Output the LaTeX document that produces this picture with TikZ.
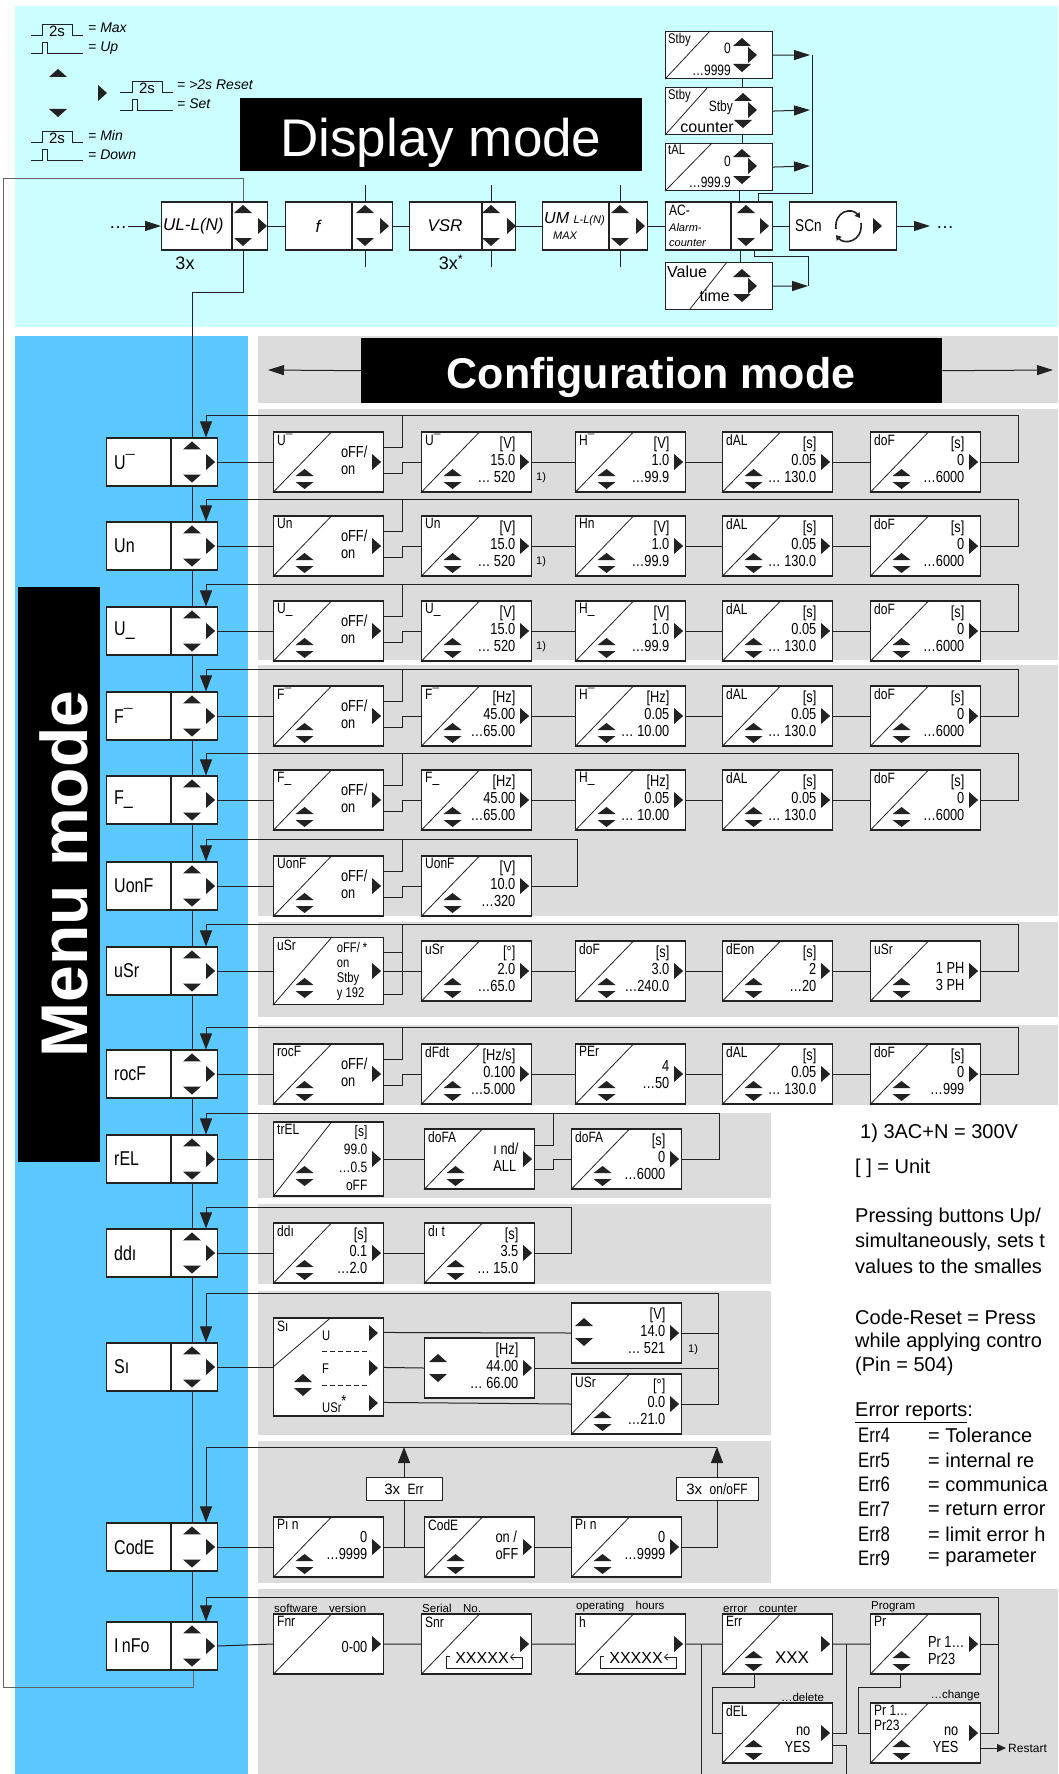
\documentclass[tikz,border=0pt]{standalone}
\usepackage{fontspec}
\setmainfont{Liberation Sans}
\newfontfamily\segf{Liberation Sans}[FakeStretch=0.8]
\usetikzlibrary{arrows.meta,calc}
\definecolor{cyanbg}{HTML}{CCFFFF}
\definecolor{bluebg}{HTML}{5BC8FF}
\definecolor{graybg}{HTML}{DCDCDC}
\definecolor{ln}{HTML}{222222}
\pgfdeclarelayer{bg}
\pgfdeclarelayer{wires}
\pgfsetlayers{bg,wires,main}
\newcommand\fsz[2]{\fontsize{#1}{#2}\selectfont}
\newcommand\tright[1]{\fill[ln,shift={(#1)}] (-4,-8) -- (5,0) -- (-4,8) -- cycle;}
\newcommand\tup[1]{\fill[ln,shift={(#1)}] (-9,4) -- (0,-4) -- (9,4) -- cycle;}
\newcommand\tdown[1]{\fill[ln,shift={(#1)}] (-9,-4) -- (0,4) -- (9,-4) -- cycle;}
\newcommand\tud[1]{\fill[ln,shift={(#1)}] (-9,-3) -- (0,-10) -- (9,-3) -- cycle (-9,3) -- (0,10) -- (9,3) -- cycle;}
\tikzset{
 cbox/.style={draw=ln, fill=white, line width=1.1pt, minimum width=110pt, inner sep=0pt, anchor=west},
 lbl/.style={anchor=north west, inner sep=0pt, align=left, font=\segf\fsz{15}{15}},
 val/.style={anchor=east, inner sep=0pt, align=right, font=\segf\fsz{16}{17}},
 diag/.style={draw=ln, line width=0.8pt},
 wire/.style={draw=ln, line width=1pt},
 fb/.style={wire, -{Triangle[length=16pt,width=12pt]}},
 ar/.style={wire, -{Triangle[length=16pt,width=10pt]}},
 mbox/.style={draw=ln, fill=white, line width=1.1pt, minimum width=111pt, minimum height=48pt, inner sep=0pt, anchor=west},
 mlbl/.style={anchor=west, inner sep=0pt, font=\segf\fsz{20}{20}},
 dbox/.style={draw=ln, fill=white, line width=1.1pt, minimum height=48pt, inner sep=0pt, anchor=west},
 sbox/.style={draw=ln, fill=white, line width=1.1pt, minimum width=107pt, minimum height=47pt, inner sep=0pt, anchor=north west},
 note/.style={anchor=west, inner sep=0pt, font=\fsz{20}{20}},
 capt/.style={anchor=south west, inner sep=1pt, font=\fsz{11.5}{12}},
 fn/.style={anchor=west, inner sep=0pt, font=\fsz{11}{11}},
 leg/.style={anchor=west, inner sep=0pt, font=\itshape\fsz{14}{14}},
 dtxt/.style={inner sep=0pt, font=\itshape\fsz{17}{17}},
 stv/.style={anchor=east, inner sep=0pt, font=\segf\fsz{15}{15}},
}
\newcommand\cfgn[7][]{%
 \node[cbox, minimum height=#5pt] (#2) at (#3,#4) {};
 \draw[diag] (#2.south west) -- ($(#2.north west)+(59,0)$);
 \node[lbl] (#2l) at ($(#2.north west)+(4,3)$) {#6};
 \node[val,#1] (#2v) at ($(#2.center)+(39,-2)$) {#7};
 \tright{$(#2.east)+(-8,0)$}
}
\newcommand\cfg[7][]{\cfgn[#1]{#2}{#3}{#4}{#5}{#6}{#7}\tud{$(#2.center)+(-24,17)$}}
\newcommand\menu[3]{%
 \node[mbox] (#1) at (106,#2) {};
 \draw[line width=1.1pt, ln] ($(#1.north west)+(65,0)$) -- ($(#1.south west)+(65,0)$);
 \node[mlbl] (#1l) at (114,#2) {#3};
 \coordinate (#1t) at ($(#1.north west)+(100,0)$);
 \tup{$(#1.north west)+(86,8)$}
 \tdown{$(#1.south west)+(86,-8)$}
 \tright{$(#1.east)+(-8,0)$}
}
\newcommand\xbrack[2]{%
 \node[inner sep=0pt, font=\fsz{16}{16}] (#1x) at (#2+61,1658) {XXXXX};
 \draw[ln, line width=0.8pt, -{Straight Barb[length=3pt,width=6pt]}] (#2+29,1656) -- (#2+25,1656) -- (#2+25,1668) -- (#2+101,1668) -- (#2+101,1657) -- (#2+89,1657);
}
\begin{document}
\begin{tikzpicture}[x=1pt,y=-1pt]
\useasboundingbox (0,0) rectangle (1058,1774);
\begin{pgfonlayer}{bg}
\fill[white] (0,0) rectangle (1058,1774);
\fill[cyanbg] (15,6) rectangle (1058,327);
\fill[bluebg] (15,336) rectangle (248,1774);
\fill[graybg] (258,336) rectangle (1058,403);
\fill[graybg] (258,409) rectangle (1058,660);
\fill[graybg] (258,665) rectangle (1058,916);
\fill[graybg] (258,922) rectangle (1058,1017);
\fill[graybg] (258,1025) rectangle (1058,1105);
\fill[graybg] (258,1113) rectangle (771,1198);
\fill[graybg] (258,1204) rectangle (771,1284);
\fill[graybg] (258,1291) rectangle (771,1435);
\fill[graybg] (258,1441) rectangle (771,1583);
\fill[graybg] (258,1589) rectangle (1058,1774);
\end{pgfonlayer}

% ---------- legend ----------
\draw[ln, line width=0.9pt] (31,35) -- (42,35) -- (42,24) -- (72,24) -- (72,35) -- (83,35);
\node[inner sep=0pt, font=\fsz{15}{15}] (lg2a) at (57,31) {2s};
\node[leg] (lg1) at (88,28) {= Max};
\draw[ln, line width=0.9pt] (31,53) -- (42,53) -- (42,42) -- (47,42) -- (47,53) -- (83,53);
\node[leg] (lg2) at (88,48) {= Up};
\draw[ln, line width=0.9pt] (120,92) -- (132,92) -- (132,81) -- (162,81) -- (162,92) -- (173,92);
\node[inner sep=0pt, font=\fsz{15}{15}] (lg2b) at (147,88) {2s};
\node[leg] (lg3) at (177,85) {= >2s Reset};
\draw[ln, line width=0.9pt] (120,110) -- (132,110) -- (132,99) -- (137,99) -- (137,110) -- (173,110);
\node[leg] (lg4) at (177,104) {= Set};
\draw[ln, line width=0.9pt] (31,142) -- (42,142) -- (42,131) -- (72,131) -- (72,142) -- (83,142);
\node[inner sep=0pt, font=\fsz{15}{15}] (lg2c) at (57,138) {2s};
\node[leg] (lg5) at (88,135) {= Min};
\draw[ln, line width=0.9pt] (31,160) -- (42,160) -- (42,149) -- (47,149) -- (47,160) -- (83,160);
\node[leg] (lg6) at (88,155) {= Down};
\tup{58,73}
\tdown{58,113}
\tright{102,93}

% ---------- display mode ----------
\node[fill=black, minimum width=402pt, minimum height=73pt, anchor=north west, inner sep=0pt] (dmb) at (240,98) {};
\node[anchor=base, inner sep=0pt, text=white, font=\fsz{53}{53}] (dmt) at (441,157) {Display mode};

\node[dbox, minimum width=106pt] (ul) at (161,226) {};
\draw[line width=1.1pt, ln] (232,202) -- (232,250);
\node[dtxt, anchor=west] (ult) at (163,226) {UL-L(N)};
\tup{243,209} \tdown{243,242} \tright{262,226}
\node[inner sep=0pt, font=\fsz{18}{18}] (ul3) at (185,263) {3x};
\node[inner sep=0pt, font=\fsz{18}{18}] (dots1) at (118,228) {…};

\node[dbox, minimum width=107pt] (ff) at (285,226) {};
\draw[line width=1.1pt, ln] (352,202) -- (352,250);
\node[dtxt] (fft) at (318,226) {f};
\tup{365,209} \tdown{365,242} \tright{384,226}

\node[dbox, minimum width=106pt] (vs) at (409,226) {};
\draw[line width=1.1pt, ln] (482,202) -- (482,250);
\node[dtxt] (vst) at (445,226) {VSR};
\tup{491,209} \tdown{491,242} \tright{511,226}
\node[inner sep=0pt, font=\fsz{18}{18}] (vs3) at (451,262) {3x\textsuperscript{*}};

\node[dbox, minimum width=105pt] (um) at (542,226) {};
\draw[line width=1.1pt, ln] (609,202) -- (609,250);
\node[anchor=west, inner sep=0pt, font=\itshape\fsz{16}{16}] (umt) at (544,219) {UM {\fsz{11}{11}L-L(N)}};
\node[anchor=west, inner sep=0pt, font=\itshape\fsz{11}{11}] (umx) at (553,236) {MAX};
\tup{620,209} \tdown{620,242} \tright{640,226}

\node[dbox, minimum width=107pt] (ac) at (665,226) {};
\draw[line width=1.1pt, ln] (731,202) -- (731,250);
\node[lbl] (act) at (669,205) {AC-};
\node[anchor=west, inner sep=0pt, font=\itshape\fsz{11}{11}] (aca) at (669,228) {Alarm-};
\node[anchor=west, inner sep=0pt, font=\itshape\fsz{11}{11}] (acc) at (669,243) {counter};
\tup{746,209} \tdown{746,242} \tright{764,226}

\node[dbox, minimum width=107pt] (sc) at (789,226) {};
\node[anchor=west, inner sep=0pt, font=\segf\fsz{17}{17}] (sct) at (795,226) {SCn};
\draw[ln, line width=1.6pt, -{Triangle[length=5pt,width=6pt]}] (836,229) .. controls (834,211) and (852,207) .. (860,218);
\draw[ln, line width=1.6pt, -{Triangle[length=5pt,width=6pt]}] (861,223) .. controls (863,242) and (844,245) .. (836,235);
\tright{877,226}
\node[inner sep=0pt, font=\fsz{18}{18}] (dots2) at (945,228) {…};

\node[sbox] (st1) at (665,31) {};
\draw[diag] (st1.south west) -- ($(st1.north west)+(45,0)$);
\node[lbl, font=\segf\fsz{14}{14}] (st1l) at ($(st1.north west)+(3,2)$) {Stby};
\node[stv] (st1a) at (731,48) {0};
\node[stv] (st1b) at (731,70) {…9999};
\tup{742,42} \tright{752,55} \tdown{742,68}

\node[sbox] (st2) at (665,87) {};
\draw[diag] (st2.south west) -- ($(st2.north west)+(43,0)$);
\node[lbl, font=\segf\fsz{14}{14}] (st2l) at ($(st2.north west)+(3,2)$) {Stby};
\node[stv] (st2a) at (733,108) {Stby};
\node[anchor=east, inner sep=0pt, font=\fsz{16}{16}] (st2b) at (734,127) {counter};
\tup{743,97} \tright{752,110} \tdown{743,124}

\node[sbox] (st3) at (665,143) {};
\draw[diag] (st3.south west) -- ($(st3.north west)+(47,0)$);
\node[lbl, font=\segf\fsz{14}{14}] (st3l) at ($(st3.north west)+(3,2)$) {tAL};
\node[stv] (st3a) at (731,161) {0};
\node[stv] (st3b) at (731,182) {…999.9};
\tup{742,153} \tright{752,166} \tdown{742,180}

\node[sbox] (vt) at (665,262) {};
\draw[diag] (690,309) -- (727,262);
\node[anchor=west, inner sep=0pt, font=\fsz{16}{16}] (vtl) at (667,272) {Value};
\node[anchor=east, inner sep=0pt, font=\fsz{16}{16}] (vtr) at (730,296) {time};
\tup{742,273} \tright{752,286} \tdown{742,298}

% ---------- menu mode / configuration header ----------
\node[fill=black, minimum width=82pt, minimum height=575pt, anchor=north west, inner sep=0pt] (mmb) at (18,587) {};
\node[rotate=90, anchor=base, inner sep=0pt, text=white, font=\bfseries\fsz{66}{66}] (mmt) at (87,874) {Menu mode};
\node[fill=black, minimum width=581pt, minimum height=65pt, anchor=north west, inner sep=0pt] (cmb) at (361,338) {};
\node[anchor=base, inner sep=0pt, text=white, font=\bfseries\fsz{43}{43}] (cmt) at (651,388) {Configuration mode};

% ---------- menu boxes ----------
\menu{m1}{462}{U¯}
\menu{m2}{546}{Un}
\menu{m3}{631}{U\_}
\menu{m4}{716}{F¯}
\menu{m5}{800}{F\_}
\menu{m6}{886}{UonF}
\menu{m7}{971}{uSr}
\menu{m8}{1074}{rocF}
\menu{m9}{1159}{rEL}
\menu{m10}{1253}{ddı}
\menu{m11}{1367}{Sı}
\menu{m12}{1547}{CodE}
\menu{m13}{1646}{I\,nFo}

% ---------- rows U ----------
\cfg[align=left]{a1}{273}{462}{60}{U¯}{oFF/\\on}
\cfg{b1}{421}{462}{60}{U¯}{[V]\\15.0\\… 520}
\cfg{c1}{575}{462}{60}{H¯}{[V]\\1.0\\…99.9}
\cfg{d1}{722}{462}{60}{dAL}{[s]\\0.05\\… 130.0}
\cfg{e1}{870}{462}{60}{doF}{[s]\\0\\…6000}
\node[fn] (fa1) at (536,478) {1)};

\cfg[align=left]{a2}{273}{546}{60}{Un}{oFF/\\on}
\cfg{b2}{421}{546}{60}{Un}{[V]\\15.0\\… 520}
\cfg{c2}{575}{546}{60}{Hn}{[V]\\1.0\\…99.9}
\cfg{d2}{722}{546}{60}{dAL}{[s]\\0.05\\… 130.0}
\cfg{e2}{870}{546}{60}{doF}{[s]\\0\\…6000}
\node[fn] (fa2) at (536,562) {1)};

\cfg[align=left]{a3}{273}{631}{60}{U\_}{oFF/\\on}
\cfg{b3}{421}{631}{60}{U\_}{[V]\\15.0\\… 520}
\cfg{c3}{575}{631}{60}{H\_}{[V]\\1.0\\…99.9}
\cfg{d3}{722}{631}{60}{dAL}{[s]\\0.05\\… 130.0}
\cfg{e3}{870}{631}{60}{doF}{[s]\\0\\…6000}
\node[fn] (fa3) at (536,647) {1)};

% ---------- rows F ----------
\cfg[align=left]{a4}{273}{716}{60}{F¯}{oFF/\\on}
\cfg{b4}{421}{716}{60}{F¯}{[Hz]\\45.00\\…65.00}
\cfg{c4}{575}{716}{60}{H¯}{[Hz]\\0.05\\… 10.00}
\cfg{d4}{722}{716}{60}{dAL}{[s]\\0.05\\… 130.0}
\cfg{e4}{870}{716}{60}{doF}{[s]\\0\\…6000}

\cfg[align=left]{a5}{273}{800}{60}{F\_}{oFF/\\on}
\cfg{b5}{421}{800}{60}{F\_}{[Hz]\\45.00\\…65.00}
\cfg{c5}{575}{800}{60}{H\_}{[Hz]\\0.05\\… 10.00}
\cfg{d5}{722}{800}{60}{dAL}{[s]\\0.05\\… 130.0}
\cfg{e5}{870}{800}{60}{doF}{[s]\\0\\…6000}

\cfg[align=left]{a6}{273}{886}{60}{UonF}{oFF/\\on}
\cfg{b6}{421}{886}{60}{UonF}{[V]\\10.0\\…320}

% ---------- row uSr ----------
\cfg[align=left, font=\segf\fsz{14}{15}, yshift=-2pt]{a7}{273}{971}{67}{uSr}{oFF/ *\\on\\Stby\\y 192}
\cfg{b7}{421}{971}{60}{uSr}{[°]\\2.0\\…65.0}
\cfg{c7}{575}{971}{60}{doF}{[s]\\3.0\\…240.0}
\cfg{d7}{722}{971}{60}{dEon}{[s]\\2\\…20}
\cfg[yshift=-8pt]{e7}{870}{971}{60}{uSr}{1 PH\\3 PH}

% ---------- row rocF ----------
\cfg[align=left]{a8}{273}{1074}{60}{rocF}{oFF/\\on}
\cfg{b8}{421}{1074}{60}{dFdt}{[Hz/s]\\0.100\\…5.000}
\cfg{c8}{575}{1074}{60}{PEr}{~\\4\\…50}
\cfg{d8}{722}{1074}{60}{dAL}{[s]\\0.05\\… 130.0}
\cfg{e8}{870}{1074}{60}{doF}{[s]\\0\\…999}

% ---------- row rEL ----------
\cfg[font=\segf\fsz{15}{18}, yshift=-1pt]{a9}{273}{1159}{74}{trEL}{[s]\\99.0\\…0.5\\oFF}
\cfg[align=left]{b9}{424}{1159}{60}{doFA}{ı nd/\\ALL}
\cfg{c9}{571}{1159}{60}{doFA}{[s]\\0\\…6000}

% ---------- row ddi ----------
\cfg{a10}{273}{1253}{60}{ddı}{[s]\\0.1\\…2.0}
\cfg{b10}{424}{1253}{60}{dı t}{[s]\\3.5\\… 15.0}

% ---------- row Si ----------
\node[cbox, minimum height=98pt] (s1) at (273,1367) {};
\draw[diag] (s1.west) -- ($(s1.north west)+(58,0)$);
\node[lbl] (s1l) at ($(s1.north west)+(4,3)$) {Sı};
\node[anchor=west, inner sep=0pt, font=\segf\fsz{14}{14}] (s1u) at (322,1336) {U};
\node[anchor=west, inner sep=0pt, font=\segf\fsz{14}{14}] (s1f) at (322,1369) {F};
\node[anchor=west, inner sep=0pt, font=\segf\fsz{14}{14}] (s1s) at (322,1404) {USr\textsuperscript{\fsz{16}{16}*}};
\draw[ln, line width=0.8pt, dash pattern=on 5pt off 3pt] (322,1351) -- (370,1351);
\draw[ln, line width=0.8pt, dash pattern=on 5pt off 3pt] (322,1385) -- (370,1385);
\tright{373,1333} \tright{373,1368} \tright{373,1403}
\tup{303,1378} \tdown{303,1392}

\node[cbox, minimum height=60pt] (s2) at (424,1368) {};
\node[val] (s2v) at ($(s2.center)+(39,-2)$) {[Hz]\\44.00\\… 66.00};
\tup{438,1358} \tdown{438,1378}
\tright{$(s2.east)+(-8,0)$}

\node[cbox, minimum height=60pt] (s3) at (571,1333) {};
\node[val] (s3v) at ($(s3.center)+(39,-2)$) {[V]\\14.0\\… 521};
\tup{584,1322} \tdown{584,1342}
\tright{$(s3.east)+(-8,0)$}
\node[fn] (fa11) at (688,1350) {1)};

\cfg{s4}{571}{1404}{60}{USr}{[°]\\0.0\\…21.0}

% ---------- row Code ----------
\cfg{p1}{273}{1547}{60}{Pı n}{0\\…9999}
\cfg[align=left]{p2}{424}{1547}{60}{CodE}{on /\\oFF}
\cfg{p3}{571}{1547}{60}{Pı n}{0\\…9999}
\node[draw=ln, fill=white, line width=1pt, minimum width=76pt, minimum height=23pt, inner sep=0pt, font=\fsz{15}{15}] (x3a) at (404,1489) {3x\enspace{\segf Err}};
\node[draw=ln, fill=white, line width=1pt, minimum width=82pt, minimum height=23pt, inner sep=0pt, font=\fsz{15}{15}] (x3b) at (717,1489) {3x\enspace{\segf on/oFF}};

% ---------- row Info ----------
\cfgn[yshift=-5pt]{i1}{273}{1644}{60}{Fnr}{0-00}
\cfgn{i2}{421}{1644}{60}{Snr}{}
\xbrack{i2}{421}
\cfgn{i3}{575}{1644}{60}{h}{}
\xbrack{i3}{575}
\cfg{i4}{722}{1644}{60}{Err}{}
\node[inner sep=0pt, font=\fsz{17}{17}] (i4x) at (792,1658) {XXX};
\cfg[align=left, yshift=-9pt]{i5}{870}{1644}{60}{Pr}{Pr 1…\\Pr23}
\cfg[yshift=-9pt, xshift=-6pt]{i6}{722}{1733}{60}{dEL}{no\\YES}
\cfg[yshift=-9pt, xshift=-6pt]{i7}{870}{1733}{60}{Pr 1…\\Pr23}{no\\YES}
\node[capt] (cp1) at (i1.north west) {software\quad version};
\node[capt] (cp2) at (i2.north west) {Serial\quad No.};
\node[capt] (cp3) at (i3.north west) {operating\quad hours};
\node[capt] (cp4) at (i4.north west) {error\quad counter};
\node[capt] (cp5) at (i5.north west) {Program};
\node[capt, anchor=south east] (cp6) at ($(i6.north east)+(-8,0)$) {…delete};
\node[capt, anchor=south east] (cp7) at (i7.north east) {…change};
\node[anchor=west, inner sep=0pt, font=\fsz{12}{12}] (rs) at (1008,1748) {Restart};

% ---------- notes ----------
\node[note] (n1) at (860,1133) {1) 3AC+N = 300V};
\node[note] (n2) at (855,1168) {[ ] = Unit};
\node[note] (n3) at (855,1217) {Pressing buttons Up/};
\node[note] (n4) at (855,1242) {simultaneously, sets t};
\node[note] (n5) at (855,1266) {values to the smalles};
\node[note] (n6) at (855,1317) {Code-Reset = Press};
\node[note] (n7) at (855,1342) {while applying contro};
\node[note] (n8) at (855,1366) {(Pin = 504)};
\node[note] (n9) at (855,1413) {\underline{Error reports}:};
\node[note, font=\segf\fsz{21}{21}] (er4) at (858,1435) {Err4};
\node[note, font=\segf\fsz{21}{21}] (er5) at (858,1460) {Err5};
\node[note, font=\segf\fsz{21}{21}] (er6) at (858,1484) {Err6};
\node[note, font=\segf\fsz{21}{21}] (er7) at (858,1509) {Err7};
\node[note, font=\segf\fsz{21}{21}] (er8) at (858,1534) {Err8};
\node[note, font=\segf\fsz{21}{21}] (er9) at (858,1558) {Err9};
\node[note] (t4) at (928,1435) {= Tolerance};
\node[note] (t5) at (928,1460) {= internal re};
\node[note] (t6) at (928,1484) {= communica};
\node[note] (t7) at (928,1509) {= return error};
\node[note] (t8) at (928,1534) {= limit error h};
\node[note] (t9) at (928,1558) {= parameter};

% ---------- connectors ----------
\begin{pgfonlayer}{wires}
% display mode
\draw[ar] (128,226) -- (ul.west);
\draw[wire] (ul.east) -- (ff.west) (ff.east) -- (vs.west) (vs.east) -- (um.west) (um.east) -- (ac.west) (ac.east) -- (sc.west);
\draw[ar] (sc.east) -- (930,226);
\draw[wire] (365,185) -- (365,267) (491,185) -- (491,267) (620,185) -- (620,267);
\draw[ar] (st1.east) -- (810,55);
\draw[ar] (st2.east) -- (810,110);
\draw[ar] (st3.east) -- (810,166);
\draw[wire] (812,55) -- (812,193) -- (758,193) -- (758,202);
\draw[wire] (742,78) -- (742,87) (742,134) -- (742,143) (739,190) -- (739,202) (740,250) -- (740,262);
\draw[wire] (754,250) -- (754,256) -- (808,256) -- (808,286);
\draw[ar] (vt.east) -- (808,286);
\draw[ar] (cmb.west) -- (268,370);
\draw[ar] (cmb.east) -- (1053,370);
% main spine
\draw[wire] (243,250) -- (243,292) -- (192,292) -- (192,1622);
\draw[draw=ln!70, line width=1pt] (193,1670) -- (193,1687) -- (3,1687) -- (3,178) -- (243,178) -- (243,202);
% standard rows
\foreach \rr/\yy in {1/462,2/546,3/631,4/716,5/800,6/886,8/1074}{
  \draw[wire] (m\rr.east) -- (a\rr.west);
  \draw[wire] ($(a\rr.east)+(0,-15)$) -| (402,\yy-47);
  \draw[wire] ($(a\rr.east)+(0,11)$) -| (402,\yy) -- (b\rr.west);
}
\foreach \rr/\yy in {1/462,2/546,3/631,4/716,5/800,8/1074}{
  \draw[wire] (b\rr.east) -- (c\rr.west) (c\rr.east) -- (d\rr.west) (d\rr.east) -- (e\rr.west);
  \draw[fb] (e\rr.east) -| (1018,\yy-47) -| (m\rr t);
}
\draw[fb] (b6.east) -| (577,839) -| (m6t);
% uSr
\draw[wire] (m7.east) -- (a7.west);
\draw[wire] ($(a7.east)+(0,-19)$) -- (402,952);
\draw[wire] ($(a7.east)+(0,23)$) -| (402,924);
\draw[wire] (a7.east) -- (b7.west) (b7.east) -- (c7.west) (c7.east) -- (d7.west) (d7.east) -- (e7.west);
\draw[fb] (e7.east) -| (1018,924) -| (m7t);
% rEL
\draw[wire] (m9.east) -- (a9.west) (a9.east) -- (b9.west);
\draw[wire] ($(b9.east)+(0,-14)$) -| (553,1113);
\draw[wire] ($(b9.east)+(0,10)$) -| (553,1159) -- (c9.west);
\draw[fb] (c9.east) -| (719,1113) -| (m9t);
% ddi
\draw[wire] (m10.east) -- (a10.west) (a10.east) -- (b10.west);
\draw[fb] (b10.east) -| (571,1207) -| (m10t);
% Si
\draw[wire] (m11.east) -- (s1.west);
\draw[wire] ($(s1.north east)+(0,15)$) -- (s3.west);
\draw[wire] ($(s1.north east)+(0,50)$) -- (s2.west);
\draw[wire] ($(s1.north east)+(0,85)$) -- (s4.west);
\draw[wire] (s2.east) -- (718,1368) (s3.east) -- (718,1333);
\draw[fb] (s4.east) -| (718,1293) -| (m11t);
% Code
\draw[wire] (m12.east) -- (p1.west) (p1.east) -- (p2.west) (p2.east) -- (p3.west);
\draw[wire] (404,1547) -- (x3a.south);
\draw[fb] (x3a.north) -- (404,1447);
\draw[wire] (p3.east) -| (x3b.south);
\draw[fb] (x3b.north) -- (717,1447);
\draw[fb] (717,1447) -| (m12t);
% Info
\draw[wire] (m13.east) -- (i1.west) (i1.east) -- (i2.west) (i2.east) -- (i3.west) (i3.east) -- (i4.west) (i4.east) -- (i5.west);
\draw[wire] (701,1644) -- (701,1774);
\draw[wire] (754,1674) |- (712,1687) |- (i6.west);
\draw[wire] (i6.east) -| (846,1644);
\draw[wire] ($(i6.east)+(0,12)$) -| (846,1774);
\draw[wire] (900,1674) |- (858,1687) |- (i7.west);
\draw[wire] (i5.east) -- (998,1644);
\draw[fb] (i7.east) -| (998,1597) -| (m13t);
\draw[wire, -{Triangle[length=9pt,width=8pt]}] ($(i7.east)+(0,15)$) -- (1006,1748);
\end{pgfonlayer}
\end{tikzpicture}
\end{document}
